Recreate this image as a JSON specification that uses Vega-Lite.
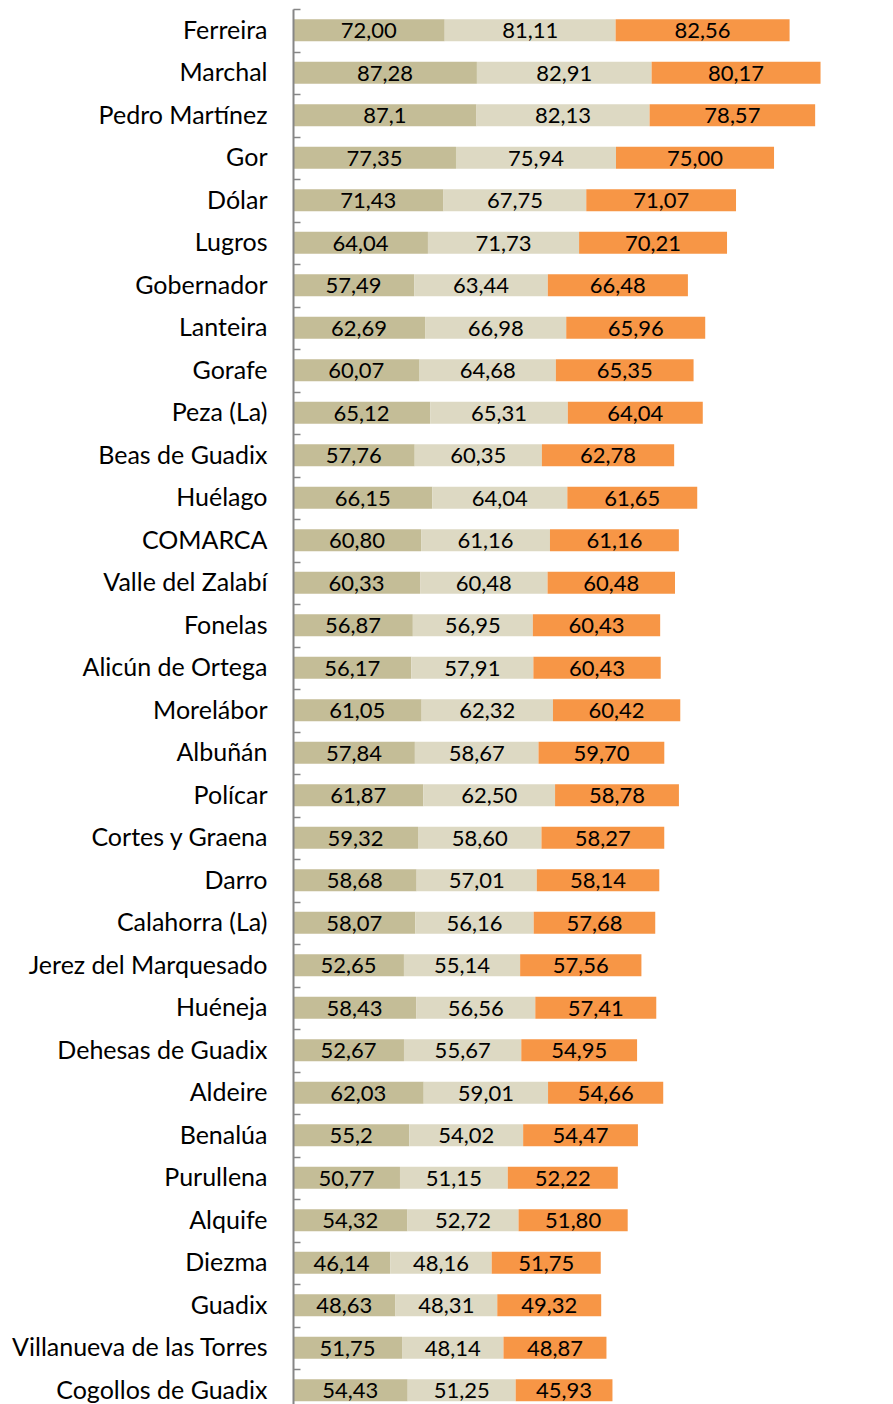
{
  "$schema": "https://vega.github.io/schema/vega-lite/v6.json",
  "autosize": {"type": "none"},
  "padding": {"left": 293, "top": 9, "right": 0, "bottom": 0},
  "width": 590,
  "height": 1402.5,
  "background": "#ffffff",
  "config": {"view": {"stroke": null}},
  "datasets": {
    "rows": [
      {"m": "Ferreira", "s": 1, "v": 72.00, "t": "72,00"}, {"m": "Ferreira", "s": 2, "v": 81.11, "t": "81,11"}, {"m": "Ferreira", "s": 3, "v": 82.56, "t": "82,56"},
      {"m": "Marchal", "s": 1, "v": 87.28, "t": "87,28"}, {"m": "Marchal", "s": 2, "v": 82.91, "t": "82,91"}, {"m": "Marchal", "s": 3, "v": 80.17, "t": "80,17"},
      {"m": "Pedro Martínez", "s": 1, "v": 87.1, "t": "87,1"}, {"m": "Pedro Martínez", "s": 2, "v": 82.13, "t": "82,13"}, {"m": "Pedro Martínez", "s": 3, "v": 78.57, "t": "78,57"},
      {"m": "Gor", "s": 1, "v": 77.35, "t": "77,35"}, {"m": "Gor", "s": 2, "v": 75.94, "t": "75,94"}, {"m": "Gor", "s": 3, "v": 75.00, "t": "75,00"},
      {"m": "Dólar", "s": 1, "v": 71.43, "t": "71,43"}, {"m": "Dólar", "s": 2, "v": 67.75, "t": "67,75"}, {"m": "Dólar", "s": 3, "v": 71.07, "t": "71,07"},
      {"m": "Lugros", "s": 1, "v": 64.04, "t": "64,04"}, {"m": "Lugros", "s": 2, "v": 71.73, "t": "71,73"}, {"m": "Lugros", "s": 3, "v": 70.21, "t": "70,21"},
      {"m": "Gobernador", "s": 1, "v": 57.49, "t": "57,49"}, {"m": "Gobernador", "s": 2, "v": 63.44, "t": "63,44"}, {"m": "Gobernador", "s": 3, "v": 66.48, "t": "66,48"},
      {"m": "Lanteira", "s": 1, "v": 62.69, "t": "62,69"}, {"m": "Lanteira", "s": 2, "v": 66.98, "t": "66,98"}, {"m": "Lanteira", "s": 3, "v": 65.96, "t": "65,96"},
      {"m": "Gorafe", "s": 1, "v": 60.07, "t": "60,07"}, {"m": "Gorafe", "s": 2, "v": 64.68, "t": "64,68"}, {"m": "Gorafe", "s": 3, "v": 65.35, "t": "65,35"},
      {"m": "Peza (La)", "s": 1, "v": 65.12, "t": "65,12"}, {"m": "Peza (La)", "s": 2, "v": 65.31, "t": "65,31"}, {"m": "Peza (La)", "s": 3, "v": 64.04, "t": "64,04"},
      {"m": "Beas de Guadix", "s": 1, "v": 57.76, "t": "57,76"}, {"m": "Beas de Guadix", "s": 2, "v": 60.35, "t": "60,35"}, {"m": "Beas de Guadix", "s": 3, "v": 62.78, "t": "62,78"},
      {"m": "Huélago", "s": 1, "v": 66.15, "t": "66,15"}, {"m": "Huélago", "s": 2, "v": 64.04, "t": "64,04"}, {"m": "Huélago", "s": 3, "v": 61.65, "t": "61,65"},
      {"m": "COMARCA", "s": 1, "v": 60.80, "t": "60,80"}, {"m": "COMARCA", "s": 2, "v": 61.16, "t": "61,16"}, {"m": "COMARCA", "s": 3, "v": 61.16, "t": "61,16"},
      {"m": "Valle del Zalabí", "s": 1, "v": 60.33, "t": "60,33"}, {"m": "Valle del Zalabí", "s": 2, "v": 60.48, "t": "60,48"}, {"m": "Valle del Zalabí", "s": 3, "v": 60.48, "t": "60,48"},
      {"m": "Fonelas", "s": 1, "v": 56.87, "t": "56,87"}, {"m": "Fonelas", "s": 2, "v": 56.95, "t": "56,95"}, {"m": "Fonelas", "s": 3, "v": 60.43, "t": "60,43"},
      {"m": "Alicún de Ortega", "s": 1, "v": 56.17, "t": "56,17"}, {"m": "Alicún de Ortega", "s": 2, "v": 57.91, "t": "57,91"}, {"m": "Alicún de Ortega", "s": 3, "v": 60.43, "t": "60,43"},
      {"m": "Morelábor", "s": 1, "v": 61.05, "t": "61,05"}, {"m": "Morelábor", "s": 2, "v": 62.32, "t": "62,32"}, {"m": "Morelábor", "s": 3, "v": 60.42, "t": "60,42"},
      {"m": "Albuñán", "s": 1, "v": 57.84, "t": "57,84"}, {"m": "Albuñán", "s": 2, "v": 58.67, "t": "58,67"}, {"m": "Albuñán", "s": 3, "v": 59.70, "t": "59,70"},
      {"m": "Polícar", "s": 1, "v": 61.87, "t": "61,87"}, {"m": "Polícar", "s": 2, "v": 62.50, "t": "62,50"}, {"m": "Polícar", "s": 3, "v": 58.78, "t": "58,78"},
      {"m": "Cortes y Graena", "s": 1, "v": 59.32, "t": "59,32"}, {"m": "Cortes y Graena", "s": 2, "v": 58.60, "t": "58,60"}, {"m": "Cortes y Graena", "s": 3, "v": 58.27, "t": "58,27"},
      {"m": "Darro", "s": 1, "v": 58.68, "t": "58,68"}, {"m": "Darro", "s": 2, "v": 57.01, "t": "57,01"}, {"m": "Darro", "s": 3, "v": 58.14, "t": "58,14"},
      {"m": "Calahorra (La)", "s": 1, "v": 58.07, "t": "58,07"}, {"m": "Calahorra (La)", "s": 2, "v": 56.16, "t": "56,16"}, {"m": "Calahorra (La)", "s": 3, "v": 57.68, "t": "57,68"},
      {"m": "Jerez del Marquesado", "s": 1, "v": 52.65, "t": "52,65"}, {"m": "Jerez del Marquesado", "s": 2, "v": 55.14, "t": "55,14"}, {"m": "Jerez del Marquesado", "s": 3, "v": 57.56, "t": "57,56"},
      {"m": "Huéneja", "s": 1, "v": 58.43, "t": "58,43"}, {"m": "Huéneja", "s": 2, "v": 56.56, "t": "56,56"}, {"m": "Huéneja", "s": 3, "v": 57.41, "t": "57,41"},
      {"m": "Dehesas de Guadix", "s": 1, "v": 52.67, "t": "52,67"}, {"m": "Dehesas de Guadix", "s": 2, "v": 55.67, "t": "55,67"}, {"m": "Dehesas de Guadix", "s": 3, "v": 54.95, "t": "54,95"},
      {"m": "Aldeire", "s": 1, "v": 62.03, "t": "62,03"}, {"m": "Aldeire", "s": 2, "v": 59.01, "t": "59,01"}, {"m": "Aldeire", "s": 3, "v": 54.66, "t": "54,66"},
      {"m": "Benalúa", "s": 1, "v": 55.2, "t": "55,2"}, {"m": "Benalúa", "s": 2, "v": 54.02, "t": "54,02"}, {"m": "Benalúa", "s": 3, "v": 54.47, "t": "54,47"},
      {"m": "Purullena", "s": 1, "v": 50.77, "t": "50,77"}, {"m": "Purullena", "s": 2, "v": 51.15, "t": "51,15"}, {"m": "Purullena", "s": 3, "v": 52.22, "t": "52,22"},
      {"m": "Alquife", "s": 1, "v": 54.32, "t": "54,32"}, {"m": "Alquife", "s": 2, "v": 52.72, "t": "52,72"}, {"m": "Alquife", "s": 3, "v": 51.80, "t": "51,80"},
      {"m": "Diezma", "s": 1, "v": 46.14, "t": "46,14"}, {"m": "Diezma", "s": 2, "v": 48.16, "t": "48,16"}, {"m": "Diezma", "s": 3, "v": 51.75, "t": "51,75"},
      {"m": "Guadix", "s": 1, "v": 48.63, "t": "48,63"}, {"m": "Guadix", "s": 2, "v": 48.31, "t": "48,31"}, {"m": "Guadix", "s": 3, "v": 49.32, "t": "49,32"},
      {"m": "Villanueva de las Torres", "s": 1, "v": 51.75, "t": "51,75"}, {"m": "Villanueva de las Torres", "s": 2, "v": 48.14, "t": "48,14"}, {"m": "Villanueva de las Torres", "s": 3, "v": 48.87, "t": "48,87"},
      {"m": "Cogollos de Guadix", "s": 1, "v": 54.43, "t": "54,43"}, {"m": "Cogollos de Guadix", "s": 2, "v": 51.25, "t": "51,25"}, {"m": "Cogollos de Guadix", "s": 3, "v": 45.93, "t": "45,93"}
    ]
  },
  "data": {"name": "rows"},
  "transform": [
    {"stack": "v", "groupby": ["m"], "sort": [{"field": "s", "order": "ascending"}], "as": ["v0", "v1"]},
    {"calculate": "(datum.v0 + datum.v1) / 2", "as": "vm"}
  ],
  "encoding": {
    "y": {
      "field": "m",
      "type": "nominal",
      "sort": null,
      "scale": {"paddingInner": 0, "paddingOuter": 0},
      "axis": {
        "title": null,
        "labelFont": "Lato",
        "labelFontSize": 25,
        "labelColor": "#000000",
        "labelPadding": 33,
        "domainColor": "#868686",
        "domainWidth": 2,
        "tickColor": "#868686",
        "tickWidth": 1.5,
        "tickSize": -7,
        "tickBand": "extent",
        "labelLimit": 400,
        "zindex": 1
      }
    }
  },
  "layer": [
    {
      "mark": {"type": "bar", "height": {"band": 0.52}},
      "encoding": {
        "x": {
          "field": "v0",
          "type": "quantitative",
          "scale": {"domain": [0, 280], "nice": false},
          "axis": null
        },
        "x2": {"field": "v1"},
        "color": {
          "field": "s",
          "type": "nominal",
          "scale": {"domain": [1, 2, 3], "range": ["#c4bd97", "#ddd9c3", "#f79646"]},
          "legend": null
        }
      }
    },
    {
      "mark": {"type": "text", "font": "Lato", "fontSize": 22, "color": "#000000", "align": "center", "baseline": "middle", "dy": 1},
      "encoding": {
        "x": {"field": "vm", "type": "quantitative"},
        "text": {"field": "t", "type": "nominal"}
      }
    }
  ]
}
